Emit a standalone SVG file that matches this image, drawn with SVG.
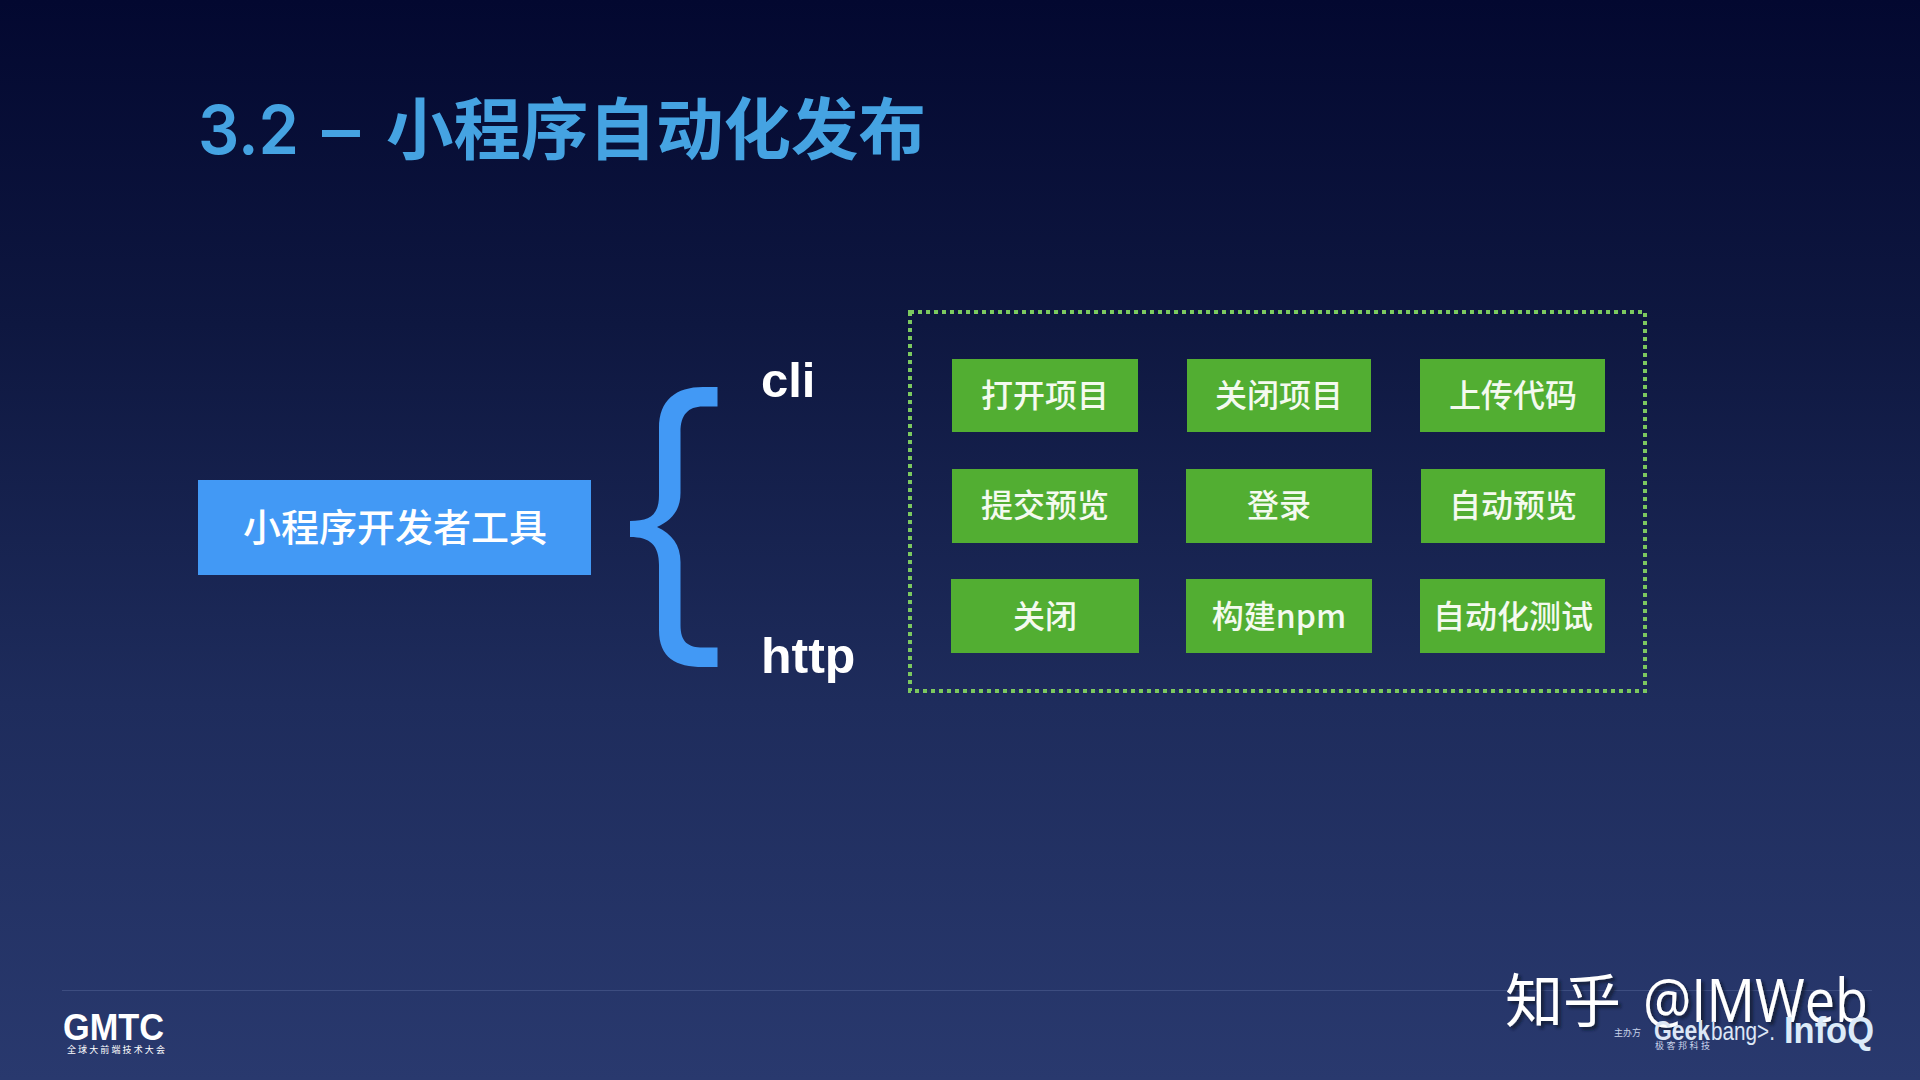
<svg xmlns="http://www.w3.org/2000/svg" width="1920" height="1080" viewBox="0 0 1920 1080">
<style>
.cjk{font-family:"Noto Sans CJK SC","Noto Sans",sans-serif}
.lat{font-family:"Liberation Sans",Arial,sans-serif}
.g{fill:#52ae32}
.gt{font-family:"Noto Sans CJK SC",sans-serif;font-size:32px;fill:#f4faef;text-anchor:middle;font-weight:500}
</style>
<defs>
<linearGradient id="bg" x1="0" y1="0" x2="0" y2="1">
<stop offset="0" stop-color="#030830"/><stop offset="0.3" stop-color="#0e1740"/><stop offset="0.65" stop-color="#1e2c5c"/><stop offset="1" stop-color="#29396e"/>
</linearGradient>
<filter id="sh" x="-5%" y="-5%" width="110%" height="115%"><feDropShadow dx="3" dy="3" stdDeviation="1.5" flood-color="#0b1230" flood-opacity="0.8"/></filter>
</defs>
<rect width="1920" height="1080" fill="url(#bg)"/>
<rect x="62" y="990" width="1810" height="1" fill="#3d4d80"/>
<g id="title" fill="#45a3e2"><text x="198" y="154" font-size="68" font-family="Inter,'Liberation Sans',sans-serif" font-weight="600" textLength="101" lengthAdjust="spacingAndGlyphs">3.2</text><text x="322" y="154" font-size="68" font-family="Inter,'Liberation Sans',sans-serif" font-weight="600" textLength="38" lengthAdjust="spacingAndGlyphs">–</text><text x="386" y="154" font-size="67.500" class="cjk" font-weight="700">小程序自动化发布</text></g>
<g id="source"><rect x="198" y="480" width="393" height="95" fill="#4299f5"/><text x="395" y="541" font-size="38" fill="#fff" text-anchor="middle" class="cjk" font-weight="500">小程序开发者工具</text></g>
<g id="brace"><path d="M717.500 387H703C676 387 659 400 659 428V495C659 515 650 521 630 521V537C650 537 659 545 659 565V630C659 658 676 667 703 667H717.500V647.500H703C688 647.500 680.500 642 680.500 625V562C680.500 545 672 534 657 527C672 520 680.500 510 680.500 493V432C680.500 415 688 406.500 703 406.500H717.500Z" fill="#4299f5"/></g>
<g id="cli"><text x="761" y="397" font-size="49" font-weight="700" fill="#fff" class="lat">cli</text></g>
<g id="http"><text x="761" y="673" font-size="50" font-weight="700" fill="#fff" class="lat">http</text></g>
<g id="group"><rect x="910" y="312" width="735" height="379" fill="none" stroke="#7cc85f" stroke-width="4" stroke-dasharray="4 4"/></g>
<g id="n1"><rect class="g" x="952" y="359" width="186" height="73"/><text class="gt" x="1045" y="407">打开项目</text></g>
<g id="n2"><rect class="g" x="1187" y="359" width="184" height="73"/><text class="gt" x="1279" y="407">关闭项目</text></g>
<g id="n3"><rect class="g" x="1420" y="359" width="185" height="73"/><text class="gt" x="1513" y="407">上传代码</text></g>
<g id="n4"><rect class="g" x="952" y="469" width="186" height="74"/><text class="gt" x="1045" y="517">提交预览</text></g>
<g id="n5"><rect class="g" x="1186" y="469" width="186" height="74"/><text class="gt" x="1279" y="517">登录</text></g>
<g id="n6"><rect class="g" x="1421" y="469" width="184" height="74"/><text class="gt" x="1513" y="517">自动预览</text></g>
<g id="n7"><rect class="g" x="951" y="579" width="188" height="74"/><text class="gt" x="1045" y="628">关闭</text></g>
<g id="n8"><rect class="g" x="1186" y="579" width="186" height="74"/><text class="gt" x="1279" y="628">构建npm</text></g>
<g id="n9"><rect class="g" x="1420" y="579" width="185" height="74"/><text class="gt" x="1513" y="628">自动化测试</text></g>
<g id="logo"><text x="63" y="1040" font-size="36" font-weight="700" fill="#fff" class="lat" textLength="101" lengthAdjust="spacingAndGlyphs">GMTC</text><text x="67" y="1053" font-size="9" fill="#fff" class="cjk" textLength="98">全球大前端技术大会</text></g>
<g id="watermark" filter="url(#sh)"><text x="1505" y="1022" font-size="58" fill="#fff" class="cjk" font-weight="400">知乎</text><text x="1643" y="1022" font-size="60" fill="#fff" font-family="'Open Sans','Liberation Sans',sans-serif" font-weight="400" textLength="225" lengthAdjust="spacingAndGlyphs">@IMWeb</text></g>
<g id="sponsors"><text x="1614" y="1036" font-size="9" fill="#c8d3ea" class="cjk">主办方</text><text x="1654" y="1040" font-size="27" font-weight="700" fill="#dce6f5" class="lat" textLength="56" lengthAdjust="spacingAndGlyphs">Geek</text><text x="1711" y="1040" font-size="25" fill="#dce6f5" class="lat" textLength="64" lengthAdjust="spacingAndGlyphs">bang&gt;.</text><text x="1655" y="1049" font-size="9" fill="#c8d3ea" class="cjk" textLength="55">极客邦科技</text><text x="1784" y="1043" font-size="36" font-weight="700" fill="#dcebf8" class="lat" textLength="90" lengthAdjust="spacingAndGlyphs">InfoQ</text></g>
</svg>
